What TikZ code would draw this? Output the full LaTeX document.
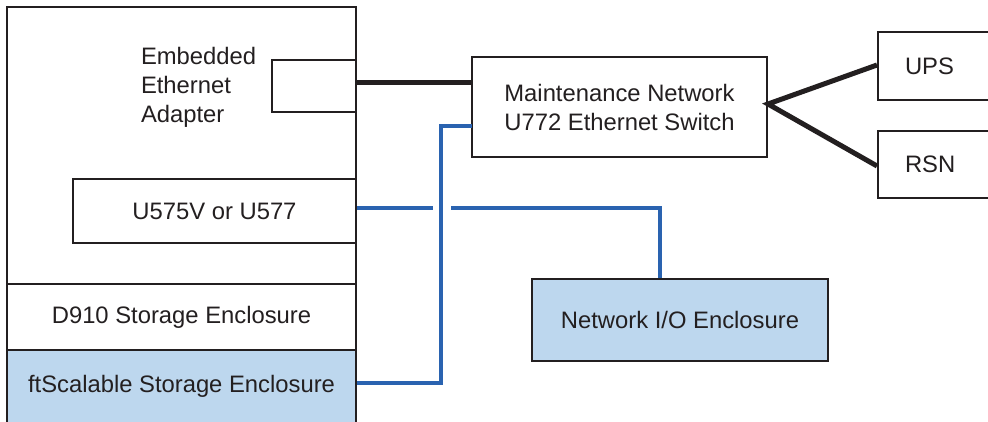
\documentclass[tikz,border=0pt]{standalone}
\usepackage{fontspec}
\setmainfont{Liberation Sans}
\definecolor{boxfill}{HTML}{BDD7EE}
\definecolor{netblue}{HTML}{2A63B0}
\definecolor{ink}{HTML}{231F20}
\tikzset{
  box/.style={draw=ink, line width=2pt, rectangle, inner sep=0pt, font=\fontsize{23.8}{29}\selectfont, text=ink},
  blk/.style={draw=ink, line width=5pt},
  blu/.style={draw=netblue, line width=4pt},
}
\begin{document}
\begin{tikzpicture}[x=1pt,y=-1pt]
\clip (0,0) rectangle (988,421);
\fill[white] (0,0) rectangle (988,421);
% main host box
\node[box, minimum width=349pt, minimum height=277pt] (host) at (181.5,145.5) {};
\node[box, draw=none, align=left, anchor=west] (eealabel) at (140,87) {Embedded\\Ethernet\\Adapter};
\node[box, minimum width=84pt, minimum height=52pt] (adapter) at (314,86) {};
\node[box, minimum width=283pt, minimum height=64pt] (u575) at (214.5,211) {U575V or U577};
\node[box, minimum width=349pt, minimum height=66pt] (d910) at (181.5,317) {D910 Storage Enclosure};
\node[box, fill=boxfill, minimum width=349pt, minimum height=73pt] (ft) at (181.5,386.5) {ftScalable Storage Enclosure};
% switch
\node[box, minimum width=295pt, minimum height=100pt, align=center] (switch) at (619.5,107) {Maintenance Network\\U772 Ethernet Switch};
\node[box, minimum width=122pt, minimum height=68pt, text width=68pt, inner xsep=27pt, align=left] (ups) at (939,66) {UPS};
\node[box, minimum width=122pt, minimum height=67pt, text width=68pt, inner xsep=27pt, align=left] (rsn) at (939,164.5) {RSN};
\node[box, fill=boxfill, minimum width=296pt, minimum height=82pt] (netio) at (680,320) {Network I/O Enclosure};
% connectors
\coordinate (gapL) at (433,208);
\coordinate (gapR) at (451,208);
\coordinate (dropX) at (660,208);
\coordinate (riseX) at (441,383);
\coordinate (swin) at (472,126);
\draw[blk] ([yshift=4pt]adapter.east) -- ([yshift=4pt]adapter.east -| switch.west);
\draw[blk, line cap=butt] (ups.west |- 0,65) -- ([yshift=3pt]switch.east) -- (rsn.west |- 0,166);
\draw[blu] ([yshift=3pt]u575.east) -- (gapL);
\draw[blu] (gapR) -- (dropX) -- (dropX |- netio.north);
\draw[blu] ([yshift=3.5pt]ft.east) -- (riseX) |- (swin);
\end{tikzpicture}
\end{document}
